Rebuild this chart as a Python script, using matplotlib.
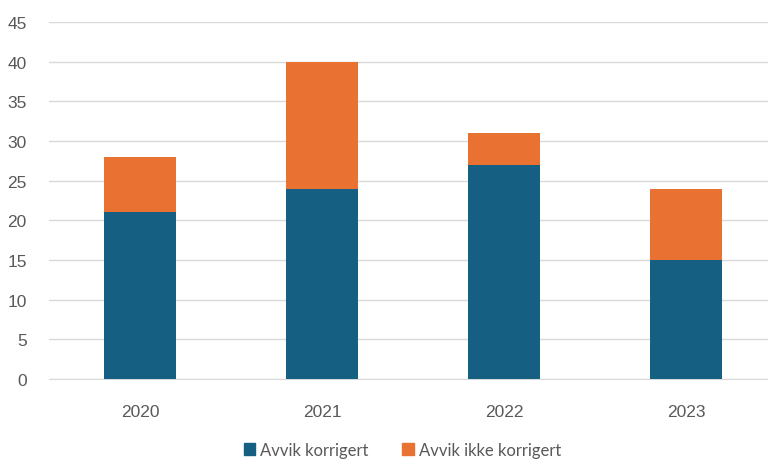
import matplotlib
matplotlib.use("Agg")
import matplotlib.pyplot as plt
from matplotlib.patches import Patch

years = ["2020", "2021", "2022", "2023"]
korrigert = [21, 24, 27, 15]
ikke_korrigert = [7, 16, 4, 9]
yticks = [0, 5, 10, 15, 20, 25, 30, 35, 40, 45]

blue = "#156082"
orange = "#E97132"
grid = "#D9D9D9"
txt = "#595959"

plt.rcParams["font.family"] = ["Liberation Sans", "DejaVu Sans"]

fig = plt.figure(figsize=(7.68, 4.6), dpi=100)
ax = fig.add_axes([49/768, 1-380/460, 1-49/768, (380-23)/460])

x = list(range(len(years)))
ax.bar(x, korrigert, width=0.4, color=blue, zorder=3)
ax.bar(x, ikke_korrigert, width=0.4, bottom=korrigert, color=orange, zorder=3)

ax.set_ylim(0, 45)
ax.set_xlim(-0.5, 3.45)
ax.set_yticks(yticks)
ax.set_xticks(x)
ax.set_xticklabels(years)
ax.yaxis.grid(True, color=grid, linewidth=1, zorder=0)
for s in ["top", "right", "left"]:
    ax.spines[s].set_visible(False)
ax.spines["bottom"].set_color(grid)
ax.tick_params(axis="both", length=0, labelcolor=txt, labelsize=12.5)
ax.tick_params(axis="x", pad=18)
ax.tick_params(axis="y", pad=16)

handles = [Patch(color=blue, label="Avvik korrigert"),
           Patch(color=orange, label="Avvik ikke korrigert")]
fig.legend(handles=handles, loc="center", bbox_to_anchor=(0.524, 0.02),
           ncol=2, frameon=False, prop={"family": "Lato", "size": 12},
           handlelength=0.7, handleheight=0.7, handletextpad=0.3,
           columnspacing=2.0, labelcolor=txt)

fig.savefig("out.png", dpi=100)
